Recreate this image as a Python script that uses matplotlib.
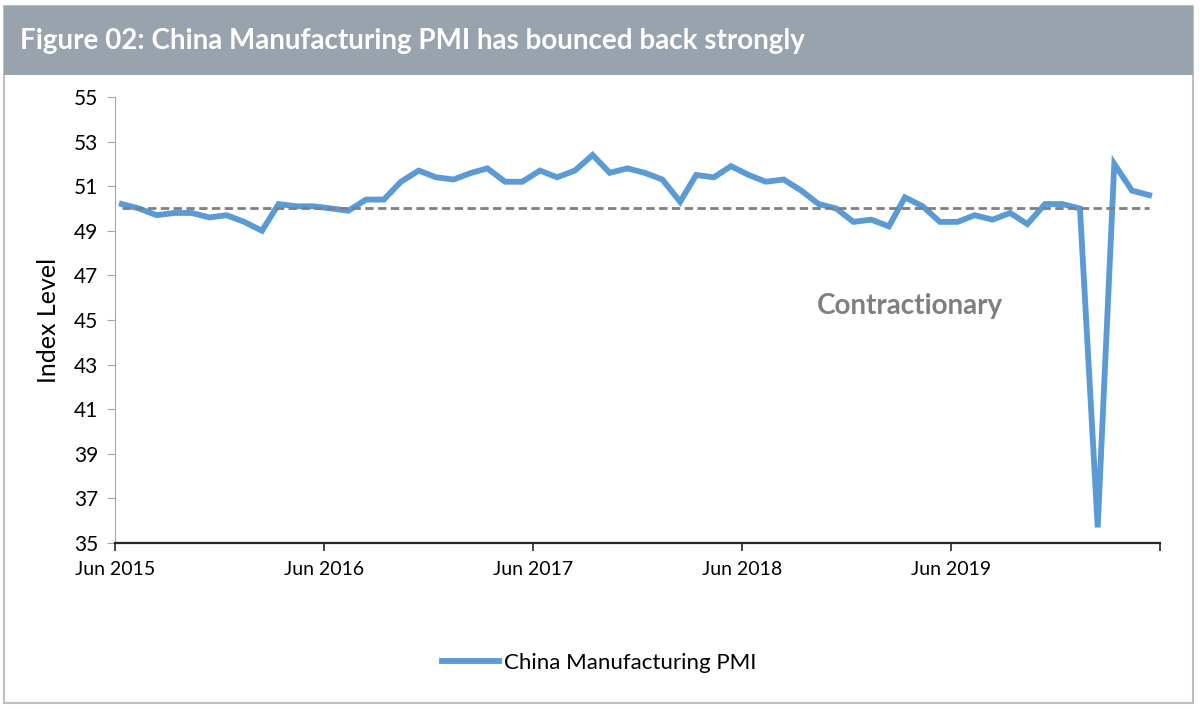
import pandas as pd
import matplotlib.pyplot as plt
import matplotlib.dates as mdates
from matplotlib.patches import Rectangle

plt.rcParams['font.family'] = ['Lato', 'DejaVu Sans']

# China Manufacturing PMI, monthly Jun 2015 - May 2020
pmi = [50.2, 50.0, 49.7, 49.8, 49.8, 49.6, 49.7,
       49.4, 49.0, 50.2, 50.1, 50.1, 50.0, 49.9, 50.4, 50.4, 51.2, 51.7, 51.4,
       51.3, 51.6, 51.8, 51.2, 51.2, 51.7, 51.4, 51.7, 52.4, 51.6, 51.8, 51.6,
       51.3, 50.3, 51.5, 51.4, 51.9, 51.5, 51.2, 51.3, 50.8, 50.2, 50.0, 49.4,
       49.5, 49.2, 50.5, 50.1, 49.4, 49.4, 49.7, 49.5, 49.8, 49.3, 50.2, 50.2,
       50.0, 35.7, 52.0, 50.8, 50.6]
dates = pd.date_range('2015-06-01', periods=len(pmi), freq='MS') + pd.Timedelta(days=12)
tick_dates = pd.date_range('2015-06-01', '2020-06-01', freq='12MS')
tick_labels = ['Jun 2015', 'Jun 2016', 'Jun 2017', 'Jun 2018', 'Jun 2019', '']
threshold = 50

blue = '#5B9BD5'
grey = '#7F7F7F'

fig = plt.figure(figsize=(12, 7.09), dpi=100)

# outer frame and title band
fig.patches.append(Rectangle((0.003, 0.009), 0.991, 0.983, transform=fig.transFigure,
                             facecolor='none', edgecolor='#BFBFBF', linewidth=1.5))
fig.patches.append(Rectangle((0.003, 0.894), 0.991, 0.098, transform=fig.transFigure,
                             facecolor='#98A3AD', edgecolor='none'))
fig.text(0.017, 0.942, 'Figure 02: China Manufacturing PMI has bounced back strongly',
         color='white', fontsize=20, fontweight='bold', va='center', ha='left')

ax = fig.add_axes([0.0958, 0.2341, 0.8709, 0.6291])
ax.plot(dates, pmi, color=blue, linewidth=4.2, label='China Manufacturing PMI',
        solid_joinstyle='miter')
ax.plot([dates[0], dates[-1]], [threshold, threshold], color=grey, linewidth=2,
        linestyle=(0, (3, 1.6)))

ax.text(mdates.date2num(pd.Timestamp('2019-03-22')), 45.65, 'Contractionary', color=grey,
        fontsize=20, fontweight='bold', ha='center', va='center')

ax.set_xlim(tick_dates[0], tick_dates[-1])
ax.set_ylim(35, 55)
ax.set_yticks(range(35, 56, 2))
ax.set_xticks(tick_dates)
ax.set_xticklabels(tick_labels)
ax.tick_params(axis='y', labelsize=15, length=6, color='#A6A6A6', pad=6)
ax.tick_params(axis='x', labelsize=14, length=6, width=1.2, color='#262626', pad=7)
ax.set_ylabel('Index Level', fontsize=18, labelpad=10)

for side in ['top', 'right']:
    ax.spines[side].set_visible(False)
ax.spines['left'].set_color('#A6A6A6')
ax.spines['bottom'].set_color('#262626')
ax.spines['bottom'].set_linewidth(1.6)

fig.legend(loc='center', bbox_to_anchor=(0.499, 0.065), frameon=False, fontsize=16,
           handlelength=2.6, handletextpad=0.2)

plt.savefig('out.png', dpi=100)
